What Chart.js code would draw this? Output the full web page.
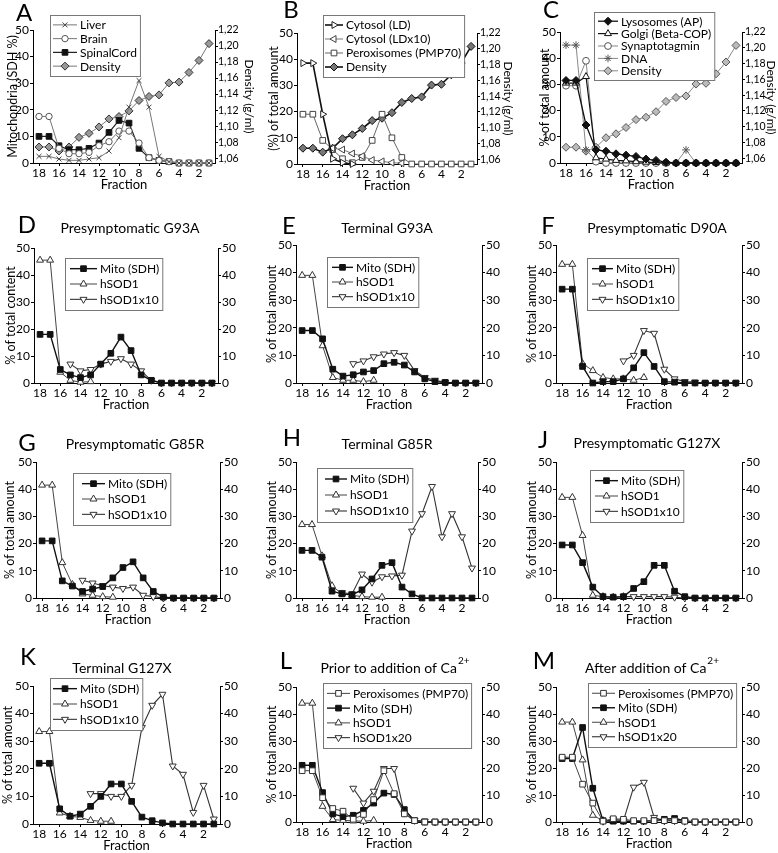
<!DOCTYPE html>
<html>
<head>
<meta charset="utf-8">
<script src="https://cdn.jsdelivr.net/npm/chart.js@4.4.1/dist/chart.umd.min.js"></script>
<style>
  body { margin: 0; background: #fff; width: 778px; height: 853px; position: relative; overflow: hidden; }
  canvas { position: absolute; }
</style>
</head>
<body>
<script>
// fractions, read from left (18) to right (1)
const fractions = [18, 17, 16, 15, 14, 13, 12, 11, 10, 9, 8, 7, 6, 5, 4, 3, 2, 1];
const fractionTicks = [18, 16, 14, 12, 10, 8, 6, 4, 2];
const percentTicks = [0, 10, 20, 30, 40, 50];
const densityTicks = [1.06, 1.08, 1.10, 1.12, 1.14, 1.16, 1.18, 1.20, 1.22];
const densityGml = [1.074, 1.074, 1.069, 1.074, 1.086, 1.091, 1.099, 1.109, 1.112, 1.119, 1.132, 1.137, 1.139, 1.154, 1.155, 1.167, 1.182, 1.203];

// A
const liverSDH = [2.5, 2.5, 1.5, 1, 1, 1.5, 2, 4.5, 9.5, 21, 31, 21, 2.5, 0.5, 0, 0, 0, 0];
const brainSDH = [17.5, 17.5, 5.5, 3.5, 3.5, 4, 6.5, 8, 12, 12, 7.5, 2, 1, 0.5, 0, 0, 0, 0];
const spinalSDH = [10, 10, 6.5, 5, 5, 5.5, 7.5, 11.5, 16, 15, 5.5, 2, 1, 0.5, 0, 0, 0, 0];
// B
const cytosolLD = [38.5, 38.5, 19, 2, 0.5, 0, null, null, null, null, null, null, null, null, null, null, null, null];
const cytosolLDx10 = [null, null, null, 6, 5.5, 4, 3, 1.5, 1, 0.5, 0.3, null, null, null, null, null, null, null];
const peroxB = [19, 19, 9, 5.5, 2, 0.5, 2.5, 9, 19, 10, 2.5, 0, 0, 0, 0, 0, 0, 0];
// C
const lysoAP = [31.5, 31.5, 14.5, 5, 4.5, 3.5, 3, 2.5, 1.5, 1, 0.3, 0, 0, 0, 0, 0, 0, 0];
const golgiCOP = [30.5, 30.5, 33, 2, 1.5, 1, 0.8, 0.5, 0.3, 0.2, 0, 0, 0, 0, 0, 0, 0, 0];
const synaptotagmin = [29.5, 29.5, 39, 0.5, 0, 0, 0, 0, 0, 0, 0, 0, 0, 0, 0, 0, 0, 0];
const dnaC = [45, 45, 5, 1, 0, 0, 0, 0, 0, 0, 0, 0, 5, 0, 0, 0, 0, 0];
// D presymptomatic G93A
const mitoD = [18, 18, 5, 3, 2, 3, 7, 11, 17, 12, 3, 1, 0, 0, 0, 0, 0, 0];
const hsodD = [45.5, 45.5, 4, 1, 0.3, 0.5, null, null, null, null, null, null, null, null, null, null, null, null];
const hsodx10D = [null, null, null, 7, 4.5, 5, 7, 8, 9, 7, 4.5, 1, 0, 0, 0, 0, 0, 0];
// E terminal G93A
const mitoE = [19, 19, 16, 5, 2.5, 3, 4, 4.5, 7, 7.5, 6.5, 4, 1.5, 0.5, 0.2, 0, 0, 0];
const hsodE = [39, 39, 13.5, 2, 1, 1, 0.5, 1, null, null, null, null, null, null, null, null, null, null];
const hsodx10E = [null, null, null, null, null, 7, 8, 9.5, 10.5, 11, 10, 4.5, 2, 1, 0.3, 0, 0, 0];
// F presymptomatic D90A
const mitoF = [34, 34, 6, 0, 0.5, 0.5, 1.5, 5.5, 11, 6, 0.5, 0.3, 0, 0, 0, 0, 0, 0];
const hsodF = [43, 43, 7, 4.5, 2, 1.5, 1.5, 1, 2, null, null, null, null, null, null, null, null, null];
const hsodx10F = [null, null, null, null, null, null, 8, 10, 19, 18, 5, 1.5, 0.5, 0.3, 0, 0, 0, 0];
// G presymptomatic G85R
const mitoG = [21, 21, 6.3, 4.4, 2.4, 3.3, 4.2, 7.4, 11.2, 13.3, 7.4, 2.4, 0.3, 0, 0, 0, 0, 0];
const hsodG = [41.5, 41.5, 13, 5, 1.5, 1, 0.5, 0.3, null, null, null, null, null, null, null, null, null, null];
const hsodx10G = [null, null, null, null, 6.5, 5.5, 4.5, 4, 3.5, 4, 1, 0.5, 0, 0, 0, 0, 0, 0];
// H terminal G85R
const mitoH = [17.5, 17.5, 15, 2.5, 1.5, 1.2, 3, 7, 12, 13, 4, 1.5, 0, 0, 0, 0, 0, 0];
const hsodH = [27, 27, 15.5, 4.5, 1.5, 1, 0.5, 0.3, 0.3, null, null, null, null, null, null, null, null, null];
const hsodx10H = [null, null, null, null, 2, 1.5, 8.8, 5.8, 7.8, 8.1, 8.4, 24.6, 31, 41, 22.5, 31, 22.5, 11];
// J presymptomatic G127X
const mitoJ = [19.5, 19.5, 13, 4, 0.5, 0.3, 0.5, 3.5, 6, 12, 12, 2.5, 0.5, 0, 0, 0, 0, 0];
const hsodJ = [37, 37, 23, 1, 0.5, 0.3, 0.5, null, null, null, null, null, null, null, null, null, null, null];
const hsodx10J = [null, null, null, null, null, null, 0.5, 0.5, 0.5, 0.5, 0.5, 0.3, 0, 0, 0, 0, 0, 0];
// K terminal G127X
const mitoK = [22, 22, 5.5, 2.8, 3.6, 6.4, 10, 14.5, 14.5, 8.2, 2.5, 1.2, 0.4, 0, 0, 0, 0, 0];
const hsodK = [33.5, 33.5, 4, 2.8, 2.4, 1.3, 1, 1, null, null, null, null, null, null, null, null, null, null];
const hsodx10K = [null, null, null, null, null, 11, 11, 10, 10, 14, 35, 43, 47, 21, 18, 4.2, 14, 1.8];
// L prior to Ca2+
const peroxL = [19, 19, 9, 5, 4, 1, 2.8, 8.3, 19, 10.5, 3, 0.5, 0, 0, 0, 0, 0, 0];
const mitoL = [21, 21, 10.9, 3, 2, 2.5, 4.3, 7, 10.7, 10.2, 4.6, 0.5, 0, 0, 0, 0, 0, 0];
const hsodL = [44, 44, 5.8, 0.9, 0.6, 0.4, 0.3, 0.6, null, null, null, null, null, null, null, null, null, null];
const hsodx20L = [null, null, null, null, null, 12.5, 7, 11.4, 19.8, 19.8, 3.3, 0.6, 0.3, 0, 0, 0, 0, 0];
// M after Ca2+
const peroxM = [24, 24, 14, 7, 0.3, 1.2, 1, 0.5, 0.5, 0.5, 0.5, 0.5, 0.3, 0, 0, 0, 0, 0];
const mitoM = [23.5, 23.5, 35, 12.5, 0.5, 0.3, 0.3, 0.3, 0.3, 0.5, 1, 1.3, 0.5, 0, 0, 0, 0, 0];
const hsodM = [37, 37, 23, 2.5, 0.5, 0.3, null, null, null, null, null, null, null, null, null, null, null, null];
const hsodx20M = [null, null, null, null, 0.3, 1, 0.5, 12.9, 14.7, 1.7, 0.5, 0.5, 0.3, 0, 0, 0, 0, 0];

const FONT = 'Lato';

const ST = {
  liver:  { marker: 'crossRot', r: 3.5, fill: '#fff', edge: '#444', line: '#777', lw: 1 },
  brain:  { marker: 'circle', r: 3.2, fill: '#fff', edge: '#555', line: '#777', lw: 1 },
  spinal: { marker: 'rect', r: 4, fill: '#111', edge: '#111', line: '#222', lw: 1.2 },
  densA:  { marker: 'rectRot', r: 4, fill: '#999', edge: '#333', line: '#777', lw: 1 },
  ld:     { marker: 'triangle', rot: 90, r: 4, fill: '#fff', edge: '#222', line: '#111', lw: 1.6 },
  ldx10:  { marker: 'triangle', rot: 270, r: 4, fill: '#fff', edge: '#444', line: '#777', lw: 1 },
  perox:  { marker: 'rect', r: 4, fill: '#fff', edge: '#444', line: '#666', lw: 1 },
  densB:  { marker: 'rectRot', r: 4, fill: '#777', edge: '#111', line: '#111', lw: 1.6 },
  lyso:   { marker: 'rectRot', r: 4, fill: '#111', edge: '#111', line: '#111', lw: 1.3 },
  golgi:  { marker: 'triangle', r: 4, fill: '#fff', edge: '#111', line: '#111', lw: 1.2 },
  synap:  { marker: 'circle', r: 3.4, fill: '#fff', edge: '#555', line: '#888', lw: 1 },
  dna:    { marker: 'star', r: 3.8, fill: '#fff', edge: '#555', line: '#888', lw: 1 },
  densC:  { marker: 'rectRot', r: 4, fill: '#bbb', edge: '#555', line: '#888', lw: 1 },
  mito:   { marker: 'rect', r: 4, fill: '#111', edge: '#111', line: '#111', lw: 1.4 },
  hsod:   { marker: 'triangle', r: 4, fill: '#fff', edge: '#333', line: '#444', lw: 1 },
  hsodx:  { marker: 'triangle', rot: 180, r: 4, fill: '#fff', edge: '#333', line: '#333', lw: 1.1 },
  peroxL: { marker: 'rect', r: 4, fill: '#fff', edge: '#333', line: '#444', lw: 1 }
};

function ser(label, values, style, axis) {
  return { label: label, values: values, style: style, axis: axis || 'y' };
}

const cols = [{ left: 0, w: 255 }, { left: 255, w: 260 }, { left: 515, w: 263 }];
const rows = [{ top: 0, h: 200 }, { top: 195, h: 220 }, { top: 390, h: 245 }, { top: 590, h: 263 }];

const panels = [
  { letter: 'A', col: 0, row: 0, lx: 24, ly: 13, ytitle: 'Mitochondria (SDH %)', ytx: 13, density: true, rtx: 249,
    area: { l: 33, r: 215, t: 30, b: 163 }, legend: { x: 50, y: 15, w: 72, h: 61, lx0: 3, line: 24 },
    series: [ser('Liver', liverSDH, ST.liver), ser('Brain', brainSDH, ST.brain), ser('SpinalCord', spinalSDH, ST.spinal), ser('Density', densityGml, ST.densA, 'y2')] },
  { letter: 'B', col: 1, row: 0, lx: 36, ly: 10, ytitle: '(%) of total amount', ytx: 19, density: true, rtx: 253,
    area: { l: 42, r: 222, t: 33, b: 164 }, legend: { x: 68, y: 15, w: 120, h: 62, lx0: 2, line: 18 },
    series: [ser('Cytosol (LD)', cytosolLD, ST.ld), ser('Cytosol (LDx10)', cytosolLDx10, ST.ldx10), ser('Peroxisomes (PMP70)', peroxB, ST.perox), ser('Density', densityGml, ST.densB, 'y2')] },
  { letter: 'C', col: 2, row: 0, lx: 36, ly: 10, ytitle: '% of total amount', ytx: 30, density: true, rtx: 256,
    area: { l: 45, r: 227, t: 32, b: 163 }, legend: { x: 79, y: 12, w: 103, h: 68, lx0: 4, line: 20 },
    series: [ser('Lysosomes (AP)', lysoAP, ST.lyso), ser('Golgi (Beta-COP)', golgiCOP, ST.golgi), ser('Synaptotagmin', synaptotagmin, ST.synap), ser('DNA', dnaC, ST.dna), ser('Density', densityGml, ST.densC, 'y2')] },

  { letter: 'D', col: 0, row: 1, lx: 27, ly: 30, title: 'Presymptomatic G93A', tx: 130, ty: 33, ytitle: '% of total content', ytx: 11,
    area: { l: 34, r: 218, t: 53, b: 188 }, legend: { x: 65, y: 63, w: 97, h: 52, lx0: 5, line: 27 },
    series: [ser('Mito (SDH)', mitoD, ST.mito), ser('hSOD1', hsodD, ST.hsod), ser('hSOD1x10', hsodx10D, ST.hsodx)] },
  { letter: 'E', col: 1, row: 1, lx: 34, ly: 31, title: 'Terminal G93A', tx: 132, ty: 33, ytitle: '% of total amount', ytx: 17,
    area: { l: 41, r: 227, t: 50, b: 188 }, legend: { x: 72, y: 62, w: 86, h: 50, lx0: 5, line: 21 },
    series: [ser('Mito (SDH)', mitoE, ST.mito), ser('hSOD1', hsodE, ST.hsod), ser('hSOD1x10', hsodx10E, ST.hsodx)] },
  { letter: 'F', col: 2, row: 1, lx: 33, ly: 31, title: 'Presymptomatic D90A', tx: 142, ty: 33, ytitle: '% of total amount', ytx: 17,
    area: { l: 41, r: 227, t: 50, b: 188 }, legend: { x: 72, y: 63, w: 91, h: 52, lx0: 5, line: 21 },
    series: [ser('Mito (SDH)', mitoF, ST.mito), ser('hSOD1', hsodF, ST.hsod), ser('hSOD1x10', hsodx10F, ST.hsodx)] },

  { letter: 'G', col: 0, row: 2, lx: 27, ly: 53, title: 'Presymptomatic G85R', tx: 135, ty: 54, ytitle: '% of total amount', ytx: 10,
    area: { l: 36, r: 220, t: 72, b: 208 }, legend: { x: 73, y: 83, w: 94, h: 52, lx0: 9, line: 23 },
    series: [ser('Mito (SDH)', mitoG, ST.mito), ser('hSOD1', hsodG, ST.hsod), ser('hSOD1x10', hsodx10G, ST.hsodx)] },
  { letter: 'H', col: 1, row: 2, lx: 37, ly: 48, title: 'Terminal G85R', tx: 132, ty: 54, ytitle: '% of total amount', ytx: 17,
    area: { l: 41, r: 223, t: 72, b: 208 }, legend: { x: 62, y: 78, w: 91, h: 54, lx0: 8, line: 22 },
    series: [ser('Mito (SDH)', mitoH, ST.mito), ser('hSOD1', hsodH, ST.hsod), ser('hSOD1x10', hsodx10H, ST.hsodx)] },
  { letter: 'J', col: 2, row: 2, lx: 28, ly: 50, title: 'Presymptomatic G127X', tx: 132, ty: 53, ytitle: '% of total amount', ytx: 17,
    area: { l: 41, r: 227, t: 72, b: 208 }, legend: { x: 75, y: 80, w: 92, h: 52, lx0: 5, line: 23 },
    series: [ser('Mito (SDH)', mitoJ, ST.mito), ser('hSOD1', hsodJ, ST.hsod), ser('hSOD1x10', hsodx10J, ST.hsodx)] },

  { letter: 'K', col: 0, row: 3, lx: 28, ly: 67, title: 'Terminal G127X', tx: 122, ty: 78, ytitle: '% of total amount', ytx: 8,
    area: { l: 33, r: 220, t: 96, b: 234 }, legend: { x: 50, y: 88, w: 90, h: 52, lx0: 3, line: 24 },
    series: [ser('Mito (SDH)', mitoK, ST.mito), ser('hSOD1', hsodK, ST.hsod), ser('hSOD1x10', hsodx10K, ST.hsodx)] },
  { letter: 'L', col: 1, row: 3, lx: 31, ly: 71, title: 'Prior to addition of Ca', sup: '2+', tx: 140, ty: 78, ytitle: '% of total amount', ytx: 17,
    area: { l: 41, r: 227, t: 97, b: 232 }, legend: { x: 68, y: 93, w: 138, h: 65, lx0: 4, line: 23 },
    series: [ser('Peroxisomes (PMP70)', peroxL, ST.peroxL), ser('Mito (SDH)', mitoL, ST.mito), ser('hSOD1', hsodL, ST.hsod), ser('hSOD1x20', hsodx20L, ST.hsodx)] },
  { letter: 'M', col: 2, row: 3, lx: 29, ly: 71, title: 'After addition of Ca', sup: '2+', tx: 137, ty: 78, ytitle: '% of total amount', ytx: 17,
    area: { l: 41, r: 227, t: 97, b: 232 }, legend: { x: 73, y: 93, w: 139, h: 64, lx0: 4, line: 23 },
    series: [ser('Peroxisomes (PMP70)', peroxM, ST.peroxL), ser('Mito (SDH)', mitoM, ST.mito), ser('hSOD1', hsodM, ST.hsod), ser('hSOD1x20', hsodx20M, ST.hsodx)] }
];

function drawMarker(ctx, st, x, y) {
  ctx.fillStyle = st.fill;
  ctx.strokeStyle = st.edge;
  ctx.lineWidth = 1;
  Chart.helpers.drawPoint(ctx, { pointStyle: st.marker, rotation: st.rot || 0, radius: st.r, borderWidth: 1 }, x, y);
}

function decorPlugin(p) {
  return {
    id: 'decor',
    afterDraw(chart) {
      const ctx = chart.ctx;
      ctx.save();
      ctx.fillStyle = '#000';
      ctx.textBaseline = 'middle';
      ctx.textAlign = 'center';
      ctx.font = '24px ' + FONT;
      ctx.fillText(p.letter, p.lx, p.ly);

      if (p.title) {
        const mainFont = '14px ' + FONT, supFont = '10px ' + FONT;
        ctx.font = mainFont;
        const w1 = ctx.measureText(p.title).width;
        let w2 = 0;
        if (p.sup) { ctx.font = supFont; w2 = ctx.measureText(p.sup).width + 1; }
        const x0 = p.tx - (w1 + w2) / 2;
        ctx.textAlign = 'left';
        ctx.font = mainFont;
        ctx.fillText(p.title, x0, p.ty);
        if (p.sup) { ctx.font = supFont; ctx.fillText(p.sup, x0 + w1 + 1, p.ty - 7); }
      }

      // legend box
      const lg = p.legend;
      ctx.font = '12px ' + FONT;
      const textX = lg.x + lg.lx0 + lg.line + 3;
      let maxW = 0;
      p.series.forEach(s => { maxW = Math.max(maxW, ctx.measureText(s.label).width); });
      const w = Math.max(lg.w, textX + maxW + 3 - lg.x);
      ctx.fillStyle = '#fff';
      ctx.fillRect(lg.x, lg.y, w, lg.h);
      ctx.strokeStyle = '#777';
      ctx.lineWidth = 1;
      ctx.strokeRect(lg.x + 0.5, lg.y + 0.5, w, lg.h);
      const rowH = (lg.h - 6) / p.series.length;
      p.series.forEach((s, i) => {
        const cy = lg.y + 3 + rowH * (i + 0.5);
        const x0 = lg.x + lg.lx0, x1 = x0 + lg.line;
        ctx.beginPath();
        ctx.strokeStyle = s.style.line;
        ctx.lineWidth = s.style.lw;
        ctx.moveTo(x0, cy);
        ctx.lineTo(x1, cy);
        ctx.stroke();
        drawMarker(ctx, s.style, (x0 + x1) / 2, cy);
        ctx.fillStyle = '#000';
        ctx.textAlign = 'left';
        ctx.textBaseline = 'middle';
        ctx.fillText(s.label, textX, cy + 0.5);
      });
      ctx.restore();
    }
  };
}

function buildConfig(p, cw, ch) {
  const Y_LH = 12.5, R_LH = 12, X_H = 28.5;
  const pl = p.ytx - Y_LH / 2;
  const wl = p.area.l - pl;
  let pr, wr;
  if (p.density) { pr = Math.max(0, cw - p.rtx - R_LH / 2); wr = cw - pr - p.area.r; }
  else { pr = 0; wr = cw - p.area.r; }
  const pt = p.area.t;
  const pb = Math.max(0, ch - p.area.b - X_H);

  const tickFont = { family: FONT, size: 12 };
  const axisGrid = { drawOnChartArea: false, drawTicks: true, tickLength: 3, color: '#000', lineWidth: 1 };
  const axisBorder = { display: true, color: '#000', width: 1 };

  const datasets = p.series.map(s => ({
    label: s.label,
    data: fractions.map((f, i) => ({ x: f, y: s.values[i] })),
    yAxisID: s.axis,
    borderColor: s.style.line,
    borderWidth: s.style.lw,
    pointStyle: s.style.marker,
    pointRotation: s.style.rot || 0,
    pointRadius: s.style.r,
    pointBackgroundColor: s.style.fill,
    pointBorderColor: s.style.edge,
    pointBorderWidth: 1,
    tension: 0,
    spanGaps: false,
    fill: false,
    clip: false
  }));

  const y2 = p.density ? {
    position: 'right', min: 1.054, max: 1.22,
    afterBuildTicks: s => { s.ticks = densityTicks.map(v => ({ value: v })); },
    ticks: { autoSkip: false, font: { family: FONT, size: 10.5 }, color: '#000', padding: 0, callback: v => v.toFixed(2).replace('.', ',') },
    title: { display: true, text: 'Density (g/ml)', color: '#000', font: { family: FONT, size: R_LH, lineHeight: 1 }, padding: 0 }
  } : {
    position: 'right', min: 0, max: 50,
    afterBuildTicks: s => { s.ticks = percentTicks.map(v => ({ value: v })); },
    ticks: { autoSkip: false, font: tickFont, color: '#000', padding: 1 }
  };
  y2.grid = axisGrid;
  y2.border = axisBorder;
  y2.afterFit = s => { s.width = wr; s.paddingTop = 0; s.paddingBottom = 0; };

  return {
    type: 'line',
    data: { datasets: datasets },
    options: {
      responsive: false,
      animation: false,
      events: [],
      layout: { padding: { left: pl, right: pr, top: pt, bottom: pb } },
      plugins: { legend: { display: false }, tooltip: { enabled: false }, title: { display: false } },
      scales: {
        x: {
          type: 'linear', reverse: true, min: 0.4, max: 18.6,
          afterBuildTicks: s => { s.ticks = fractionTicks.map(v => ({ value: v })); },
          afterFit: s => { s.height = X_H; s.paddingLeft = 0; s.paddingRight = 0; },
          ticks: { autoSkip: false, maxRotation: 0, font: tickFont, color: '#000', padding: 0 },
          grid: axisGrid,
          border: axisBorder,
          title: { display: true, text: 'Fraction', color: '#000', font: { family: FONT, size: 13, lineHeight: 1 }, padding: 0 }
        },
        y: {
          position: 'left', min: 0, max: 50,
          afterBuildTicks: s => { s.ticks = percentTicks.map(v => ({ value: v })); },
          afterFit: s => { s.width = wl; s.paddingTop = 0; s.paddingBottom = 0; },
          ticks: { autoSkip: false, font: tickFont, color: '#000', padding: 1 },
          grid: axisGrid,
          border: axisBorder,
          title: { display: true, text: p.ytitle, color: '#000', font: { family: FONT, size: Y_LH, lineHeight: 1 }, padding: 0 }
        },
        y2: y2
      }
    },
    plugins: [decorPlugin(p)]
  };
}

panels.forEach(p => {
  const col = cols[p.col], row = rows[p.row];
  const c = document.createElement('canvas');
  c.width = col.w;
  c.height = row.h;
  c.style.left = col.left + 'px';
  c.style.top = row.top + 'px';
  c.style.width = col.w + 'px';
  c.style.height = row.h + 'px';
  document.body.appendChild(c);
  new Chart(c, buildConfig(p, col.w, row.h));
});
</script>
</body>
</html>
